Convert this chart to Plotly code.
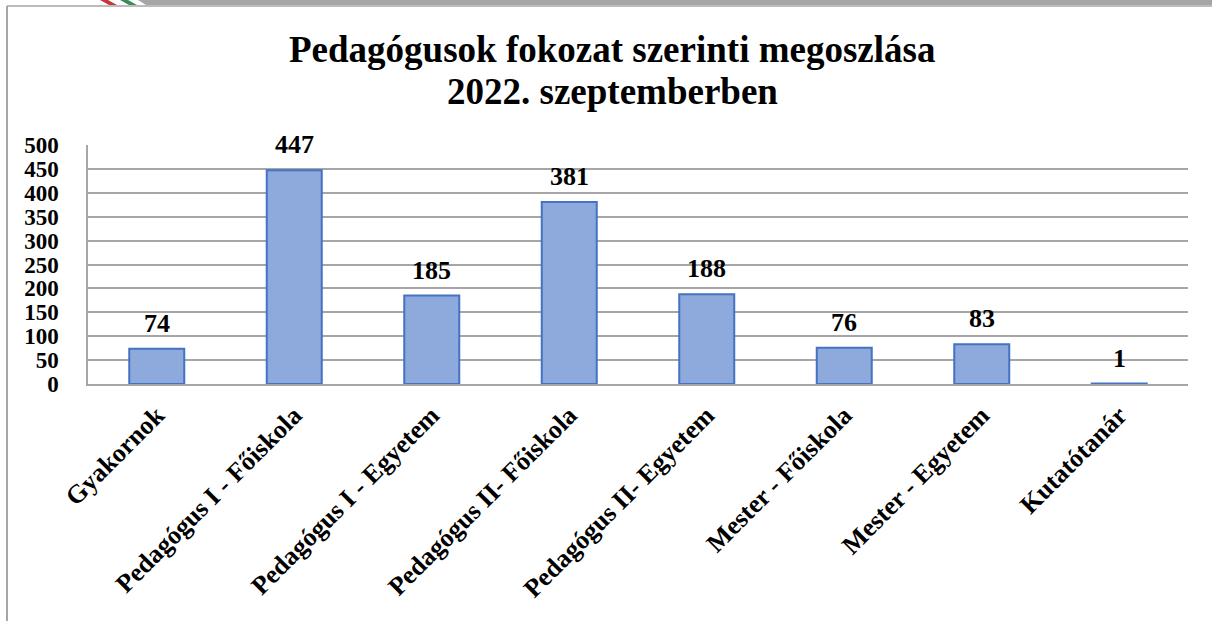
import plotly.graph_objects as go

categories = ["Gyakornok", "Pedagógus I - Főiskola", "Pedagógus I - Egyetem",
              "Pedagógus II- Főiskola", "Pedagógus II- Egyetem", "Mester - Főiskola",
              "Mester - Egyetem", "Kutatótanár"]
values = [74, 447, 185, 381, 188, 76, 83, 1]
y_ticks = list(range(0, 501, 50))
title_lines = ["Pedagógusok fokozat szerinti megoszlása", "2022. szeptemberben"]

FONT = "Liberation Serif, Times New Roman, serif"
W, H = 1212, 621
L, R, T, B = 88, 24, 145, 237
PW, PH = W - L - R, H - T - B


def px_x(px):
    return (px - L) / PW


def px_y(py):
    return 1 + (T - py) / PH


def poly(points):
    return "M " + " L ".join(f"{px_x(x):.5f},{px_y(y):.5f}" for x, y in points) + " Z"


fig = go.Figure()
fig.add_trace(go.Bar(
    x=categories, y=values, width=0.4,
    marker=dict(color="#8EA9DB", line=dict(color="#4472C4", width=2)),
    cliponaxis=False, hoverinfo="skip"
))

for c, v in zip(categories, values):
    fig.add_annotation(x=c, y=v, text=f"<b>{v}</b>", showarrow=False,
                       yanchor="bottom", yshift=9,
                       font=dict(family=FONT, size=26, color="#000"))

for i, line in enumerate(title_lines):
    fig.add_annotation(xref="paper", yref="paper", x=px_x(612), y=px_y(64 + 42 * i),
                       xanchor="center", yanchor="bottom", yshift=-8,
                       text=f"<b>{line}</b>", showarrow=False,
                       font=dict(family=FONT, size=37, color="#000"))

fig.update_layout(
    width=W, height=H,
    margin=dict(l=L, r=R, t=T, b=B, autoexpand=False),
    paper_bgcolor="white", plot_bgcolor="white",
    showlegend=False,
    font=dict(family=FONT, color="#000"),
    xaxis=dict(tickangle=-45, tickfont=dict(family=FONT, size=26, color="#000", weight="bold"),
               showline=True, linecolor="#A6A6A6", linewidth=1.5, ticks="",
               showgrid=False, automargin=False, ticklabelstandoff=4),
    yaxis=dict(range=[0, 500], tickvals=y_ticks,
               tickfont=dict(family=FONT, size=23, color="#000", weight="bold"),
               showgrid=True, gridcolor="#A6A6A6", gridwidth=1.5,
               showline=True, linecolor="#A6A6A6", linewidth=1.5, ticks="",
               zeroline=False, automargin=False, ticklabelstandoff=23),
    shapes=[
        dict(type="path", xref="paper", yref="paper",
             path=poly([(138, 0), (W, 0), (W, 5), (146, 5)]),
             fillcolor="#A6A6A6", line=dict(width=0), layer="above"),
        dict(type="path", xref="paper", yref="paper",
             path=poly([(100, 0), (108, 0), (117, 5), (109, 5)]),
             fillcolor="#C8373B", line=dict(width=0), layer="above"),
        dict(type="path", xref="paper", yref="paper",
             path=poly([(120, 0), (128, 0), (137, 5), (129, 5)]),
             fillcolor="#3C8C5A", line=dict(width=0), layer="above"),
        dict(type="line", xref="paper", yref="paper", x0=px_x(7), x1=px_x(W), y0=px_y(6), y1=px_y(6),
             line=dict(color="#A6A6A6", width=1.5)),
        dict(type="line", xref="paper", yref="paper", x0=px_x(7), x1=px_x(7), y0=px_y(H), y1=px_y(6),
             line=dict(color="#A6A6A6", width=2)),
    ],
)

fig.write_html("out.html", config={"displayModeBar": False},
               post_script="document.body.style.margin='0';")
